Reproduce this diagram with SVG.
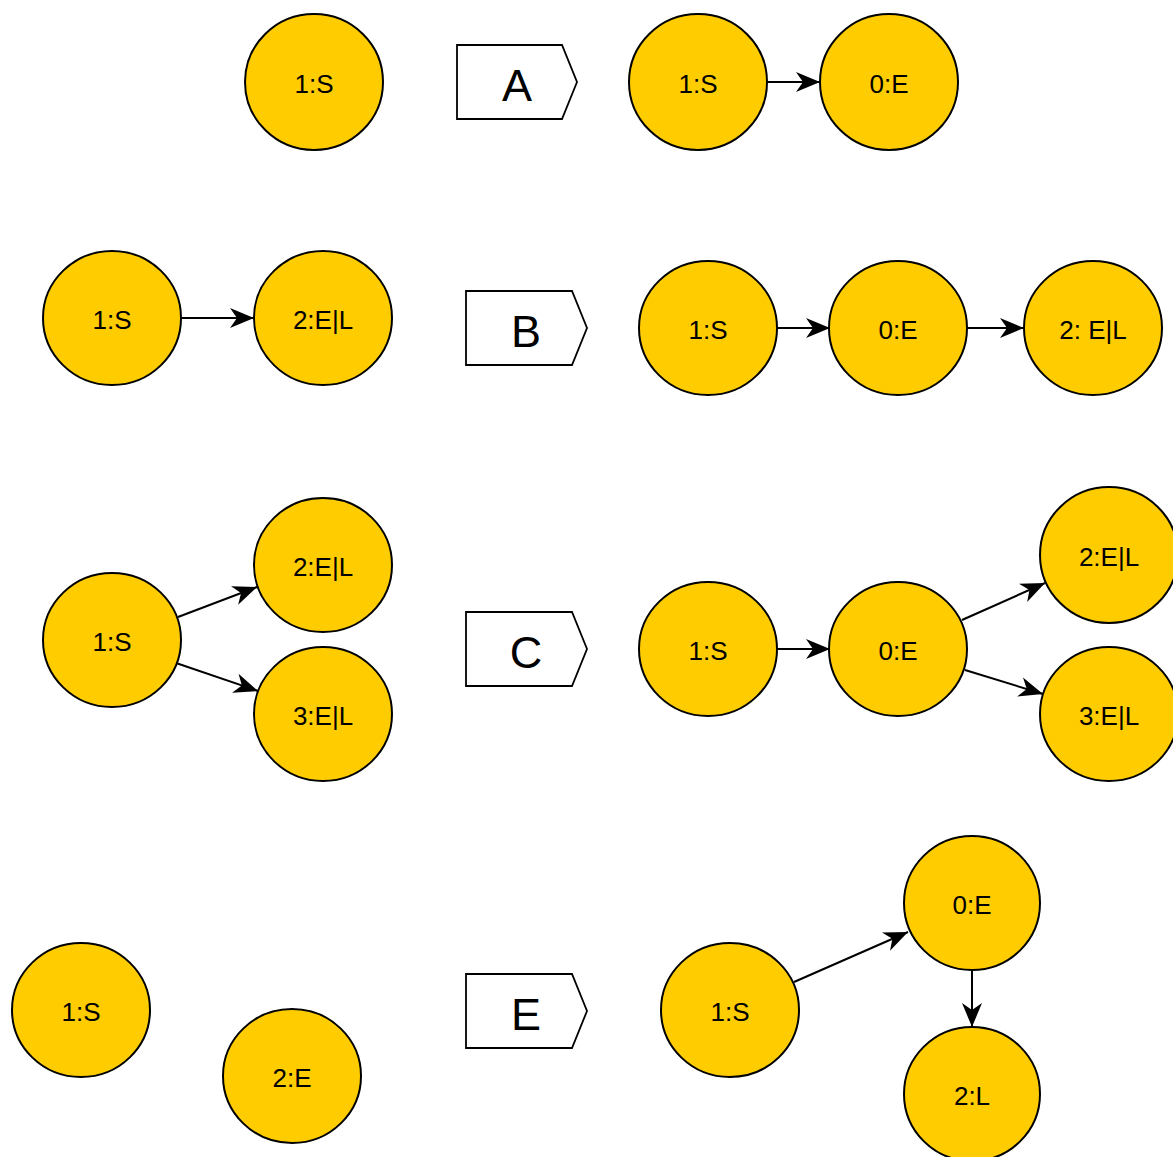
<svg xmlns="http://www.w3.org/2000/svg" width="1173" height="1157" viewBox="0 0 1173 1157">
<defs>
<style>
.n ellipse{fill:#FFCC00;stroke:#000;stroke-width:2}
.n text{font-family:"Liberation Sans",Arial,sans-serif;font-size:26px;text-anchor:middle;dominant-baseline:central;fill:#000}
.lb path{fill:#fff;stroke:#000;stroke-width:1.8}
.lb text{font-family:"Liberation Sans",Arial,sans-serif;font-size:45px;text-anchor:middle;dominant-baseline:central;fill:#000}
.e line{stroke:#000;stroke-width:2;marker-end:url(#ar)}
</style>
<marker id="ar" markerUnits="userSpaceOnUse" markerWidth="26" markerHeight="22" refX="24" refY="11" orient="auto">
<path d="M0,1 L24,11 L0,21 L7,11 Z" fill="#000"/>
</marker>
</defs>
<rect width="1173" height="1157" fill="#fff"/>
<g id="connectors" class="e">
<line x1="767" y1="82" x2="820" y2="82"/>
<line x1="181" y1="318" x2="254" y2="318"/>
<line x1="777" y1="328" x2="830" y2="328"/>
<line x1="967" y1="328" x2="1024" y2="328"/>
<line x1="178" y1="617" x2="257" y2="587"/>
<line x1="176" y1="663" x2="258" y2="691"/>
<line x1="777" y1="649" x2="830" y2="649"/>
<line x1="962" y1="620" x2="1045" y2="583"/>
<line x1="965" y1="670" x2="1043" y2="694"/>
<line x1="794" y1="982" x2="908" y2="932"/>
<line x1="972" y1="971" x2="972" y2="1027"/>
</g>
<g id="nA1" class="n"><ellipse cx="314" cy="82" rx="69" ry="68"/><text x="314" y="84">1:S</text></g>
<g id="lblA" class="lb"><path d="M457,45 L562,45 L577,82 L562,119 L457,119 Z"/><text x="517" y="85">A</text></g>
<g id="nA2" class="n"><ellipse cx="698" cy="82" rx="69" ry="68"/><text x="698" y="84">1:S</text></g>
<g id="nA3" class="n"><ellipse cx="889" cy="82" rx="69" ry="68"/><text x="889" y="84">0:E</text></g>

<g id="nB1" class="n"><ellipse cx="112" cy="318" rx="69" ry="67"/><text x="112" y="320">1:S</text></g>
<g id="nB2" class="n"><ellipse cx="323" cy="318" rx="69" ry="67"/><text x="323" y="320">2:E|L</text></g>
<g id="lblB" class="lb"><path d="M466,291 L572,291 L587,328 L572,365 L466,365 Z"/><text x="526" y="331">B</text></g>
<g id="nB3" class="n"><ellipse cx="708" cy="328" rx="69" ry="67"/><text x="708" y="330">1:S</text></g>
<g id="nB4" class="n"><ellipse cx="898" cy="328" rx="69" ry="67"/><text x="898" y="330">0:E</text></g>
<g id="nB5" class="n"><ellipse cx="1093" cy="328" rx="69" ry="67"/><text x="1093" y="330">2: E|L</text></g>

<g id="nC1" class="n"><ellipse cx="112" cy="640" rx="69" ry="67"/><text x="112" y="642">1:S</text></g>
<g id="nC2" class="n"><ellipse cx="323" cy="565" rx="69" ry="67"/><text x="323" y="567">2:E|L</text></g>
<g id="nC3" class="n"><ellipse cx="323" cy="714" rx="69" ry="67"/><text x="323" y="716">3:E|L</text></g>
<g id="lblC" class="lb"><path d="M466,612 L572,612 L587,649 L572,686 L466,686 Z"/><text x="526" y="652">C</text></g>
<g id="nC4" class="n"><ellipse cx="708" cy="649" rx="69" ry="67"/><text x="708" y="651">1:S</text></g>
<g id="nC5" class="n"><ellipse cx="898" cy="649" rx="69" ry="67"/><text x="898" y="651">0:E</text></g>
<g id="nC6" class="n"><ellipse cx="1109" cy="555" rx="69" ry="68"/><text x="1109" y="557">2:E|L</text></g>
<g id="nC7" class="n"><ellipse cx="1109" cy="714" rx="69" ry="67"/><text x="1109" y="716">3:E|L</text></g>

<g id="nE1" class="n"><ellipse cx="81" cy="1010" rx="69" ry="67"/><text x="81" y="1012">1:S</text></g>
<g id="nE2" class="n"><ellipse cx="292" cy="1076" rx="69" ry="67"/><text x="292" y="1078">2:E</text></g>
<g id="lblE" class="lb"><path d="M466,974 L572,974 L587,1011 L572,1048 L466,1048 Z"/><text x="526" y="1014">E</text></g>
<g id="nE3" class="n"><ellipse cx="730" cy="1010" rx="69" ry="67"/><text x="730" y="1012">1:S</text></g>
<g id="nE4" class="n"><ellipse cx="972" cy="903" rx="68" ry="67"/><text x="972" y="905">0:E</text></g>
<g id="nE5" class="n"><ellipse cx="972" cy="1094" rx="68" ry="67"/><text x="972" y="1096">2:L</text></g>
</svg>
